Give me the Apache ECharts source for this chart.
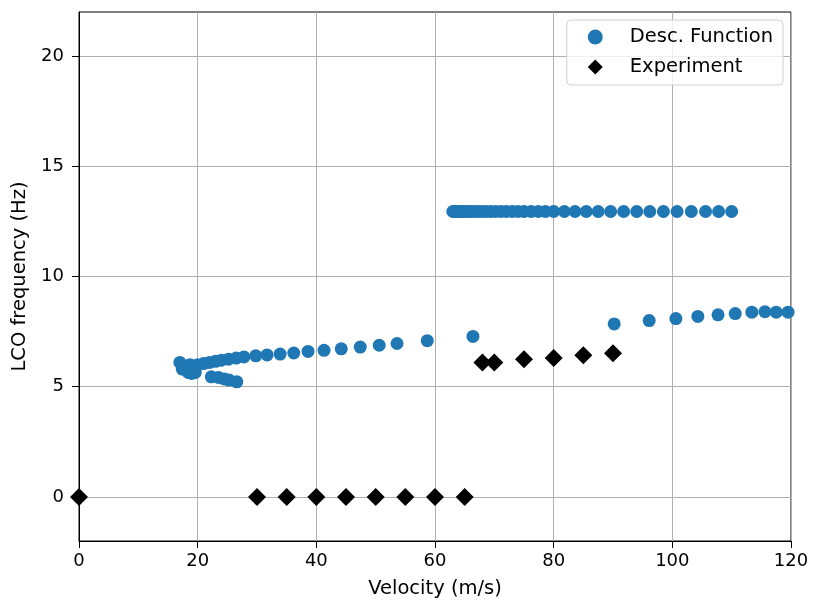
<!DOCTYPE html>
<html>
<head>
<meta charset="utf-8">
<script src="https://cdn.jsdelivr.net/npm/echarts@6/dist/echarts.min.js"></script>
<style>
  html, body { margin: 0; padding: 0; background: #fff; }
  #main { width: 814px; height: 608px; }
</style>
</head>
<body>
<div id="main"></div>
<script>
// describing function, lower branch
var dfLowV = [17.0, 17.4, 18.4, 18.7, 19.6, 20.0, 21.0, 22.0, 23.0, 24.0, 25.2, 26.5, 27.8,
  29.8, 31.7, 33.9, 36.2, 38.6, 41.3, 44.2, 47.4, 50.6, 53.6, 58.7, 66.4,
  90.2, 96.1, 100.6, 104.3, 107.7, 110.6, 113.4, 115.6, 117.5, 119.5];
var dfLowF = [6.1, 5.8, 5.65, 6.0, 5.65, 6.0, 6.05, 6.1, 6.15, 6.2, 6.25, 6.3, 6.35,
  6.4, 6.44, 6.48, 6.53, 6.6, 6.65, 6.72, 6.8, 6.88, 6.96, 7.09, 7.28,
  7.85, 8.0, 8.09, 8.19, 8.26, 8.32, 8.38, 8.4, 8.38, 8.38];
// lower-lower little branch
var dfSubV = [19.0, 22.3, 23.5, 24.5, 25.3, 26.6];
var dfSubF = [5.6, 5.45, 5.42, 5.35, 5.3, 5.22];
// upper branch ~13 Hz
var dfHighV = [63.0, 63.3, 63.6, 63.9, 64.2, 64.6, 65.0, 65.5, 66.0, 66.6, 67.2, 67.9, 68.6,
  69.4, 70.2, 71.1, 72.0, 73.0, 74.0, 75.0, 76.2, 77.4, 78.6, 80.0, 81.8, 83.6, 85.5,
  87.5, 89.6, 91.8, 94.0, 96.2, 98.5, 100.8, 103.2, 105.6, 107.8, 110.0];
var dfHighF = 12.95;
// experiment
var expV = [0, 30, 35, 40, 45, 50, 55, 60, 65, 68, 70, 75, 80, 85, 90];
var expF = [0, 0, 0, 0, 0, 0, 0, 0, 0, 6.1, 6.1, 6.25, 6.3, 6.43, 6.52];
var yTicks = [0, 5, 10, 15, 20];

var dfData = [];
dfLowV.forEach(function (v, i) { dfData.push([v, dfLowF[i]]); });
dfSubV.forEach(function (v, i) { dfData.push([v, dfSubF[i]]); });
dfHighV.forEach(function (v) { dfData.push([v, dfHighF]); });
var expData = expV.map(function (v, i) { return [v, expF[i]]; });

var chart = echarts.init(document.getElementById('main'));
var font = 'DejaVu Sans';
var fs = 19.5;   // titles, legend
var tfs = 18;    // tick labels
chart.setOption({
  animation: false,
  textStyle: { fontFamily: font },
  grid: {
    left: 79, right: 23, top: 12, bottom: 67,
    show: true, borderColor: '#000', borderWidth: 1
  },
  legend: {
    orient: 'vertical',
    right: 31, top: 20,
    padding: [7, 10, 8, 21],
    itemGap: 10,
    itemWidth: 15, itemHeight: 15,
    borderColor: '#d0d0d0', borderWidth: 1, borderRadius: 4,
    backgroundColor: 'rgba(255,255,255,0.8)',
    textStyle: { fontFamily: font, fontSize: fs, color: '#000', padding: [0, 0, 0, 22] },
    data: [
      { name: 'Desc. Function', icon: 'circle' },
      { name: 'Experiment', icon: 'diamond' }
    ]
  },
  xAxis: {
    type: 'value', min: 0, max: 120, interval: 20,
    name: 'Velocity (m/s)', nameLocation: 'middle', nameGap: 38,
    nameTextStyle: { fontFamily: font, fontSize: fs, color: '#000' },
    axisLine: { show: true, onZero: false, lineStyle: { color: '#000' } },
    axisTick: { show: true, length: 7, lineStyle: { color: '#000' } },
    axisLabel: { fontFamily: font, fontSize: tfs, color: '#000', margin: 11 },
    splitLine: { show: true, lineStyle: { color: '#b0b0b0', width: 1 } }
  },
  yAxis: {
    type: 'value', min: -2, max: 22,
    name: 'LCO frequency (Hz)', nameLocation: 'middle', nameGap: 45,
    nameTextStyle: { fontFamily: font, fontSize: fs, color: '#000' },
    axisLine: { show: true, onZero: false, lineStyle: { color: '#000' } },
    axisTick: { show: true, length: 7, customValues: yTicks, lineStyle: { color: '#000' } },
    axisLabel: { fontFamily: font, fontSize: tfs, color: '#000', margin: 15, customValues: yTicks },
    splitLine: { show: true, lineStyle: { color: '#b0b0b0', width: 1 } }
  },
  series: [
    {
      name: 'Desc. Function', type: 'scatter', data: dfData,
      symbol: 'circle', symbolSize: 13,
      itemStyle: { color: '#1f77b4', opacity: 1 },
      z: 3
    },
    {
      name: 'Experiment', type: 'scatter', data: expData,
      symbol: 'diamond', symbolSize: 18,
      itemStyle: { color: '#000', opacity: 1 },
      z: 4
    }
  ]
});
</script>
</body>
</html>
